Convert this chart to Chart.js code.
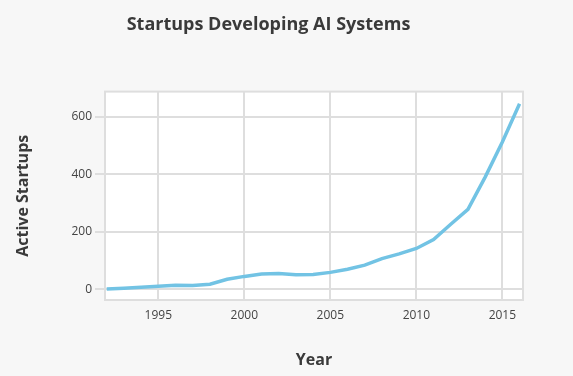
<!DOCTYPE html>
<html>
<head>
<meta charset="utf-8">
<script src="https://cdn.jsdelivr.net/npm/chart.js@4"></script>
<style>
  html, body { margin: 0; padding: 0; background: #f7f7f7; }
  #wrap { width: 573px; height: 376px; position: relative; }
</style>
</head>
<body>
<div id="wrap"><canvas id="aiChart" width="573" height="376"></canvas></div>
<script>
// data
const years = [1992, 1993, 1994, 1995, 1996, 1997, 1998, 1999, 2000, 2001, 2002, 2003, 2004,
               2005, 2006, 2007, 2008, 2009, 2010, 2011, 2012, 2013, 2014, 2015, 2016];
const activeStartups = [1, 4, 7, 11, 14, 13, 18, 35, 45, 53, 55, 51, 52,
                        59, 70, 84, 107, 123, 142, 173, 226, 278, 390, 512, 645];
const xTicks = [1995, 2000, 2005, 2010, 2015];
const yTicks = [0, 200, 400, 600];

const fontFam = "'Open Sans', sans-serif";
const gridCol = '#dedede';

// white plot area with a grey frame
const plotBg = {
    id: 'plotBg',
    beforeDraw(chart) {
        const a = chart.chartArea;
        const ctx = chart.ctx;
        ctx.save();
        ctx.fillStyle = '#ffffff';
        ctx.fillRect(a.left, a.top, a.right - a.left, a.bottom - a.top);
        ctx.restore();
    },
    afterDraw(chart) {
        const a = chart.chartArea;
        const ctx = chart.ctx;
        ctx.save();
        ctx.strokeStyle = gridCol;
        ctx.lineWidth = 2;
        ctx.strokeRect(a.left, a.top, a.right - a.left, a.bottom - a.top);
        ctx.restore();
    }
};

const ctx = document.getElementById('aiChart').getContext('2d');
new Chart(ctx, {
    type: 'line',
    data: {
        datasets: [{
            label: 'Active Startups',
            data: years.map((y, i) => ({ x: y, y: activeStartups[i] })),
            borderColor: '#72c3e4',
            borderWidth: 3.5,
            pointRadius: 0,
            fill: false,
            tension: 0
        }]
    },
    options: {
        responsive: false,
        animation: false,
        layout: { padding: { left: 14, right: 50, top: 14, bottom: 6 } },
        plugins: {
            legend: { display: false },
            tooltip: { enabled: false },
            title: {
                display: true,
                text: 'Startups Developing AI Systems',
                color: '#3a3a3a',
                font: { family: fontFam, size: 18, weight: 'bold' },
                padding: { top: 0, bottom: 56 }
            }
        },
        scales: {
            x: {
                type: 'linear',
                min: 1991.9,
                max: 2016.2,
                afterFit(scale) { scale.height = 70; },
                afterBuildTicks(scale) { scale.ticks = xTicks.map(v => ({ value: v })); },
                grid: { color: gridCol, lineWidth: 2, drawTicks: false },
                border: { display: false },
                ticks: {
                    color: '#444',
                    font: { family: fontFam, size: 12 },
                    padding: 8,
                    maxRotation: 0,
                    callback: v => String(v)
                },
                title: {
                    display: true,
                    text: 'Year',
                    color: '#3a3a3a',
                    font: { family: fontFam, size: 16, weight: 'bold' },
                    padding: 0
                }
            },
            y: {
                min: -37,
                max: 687,
                afterFit(scale) { scale.width = 91; },
                afterBuildTicks(scale) { scale.ticks = yTicks.map(v => ({ value: v })); },
                grid: { color: gridCol, lineWidth: 2, tickLength: 10 },
                border: { display: false },
                ticks: {
                    color: '#444',
                    font: { family: fontFam, size: 12 },
                    padding: 3
                },
                title: {
                    display: true,
                    text: 'Active Startups',
                    color: '#3a3a3a',
                    font: { family: fontFam, size: 16, weight: 'bold' },
                    padding: 0
                }
            }
        }
    },
    plugins: [plotBg]
});
</script>
</body>
</html>
